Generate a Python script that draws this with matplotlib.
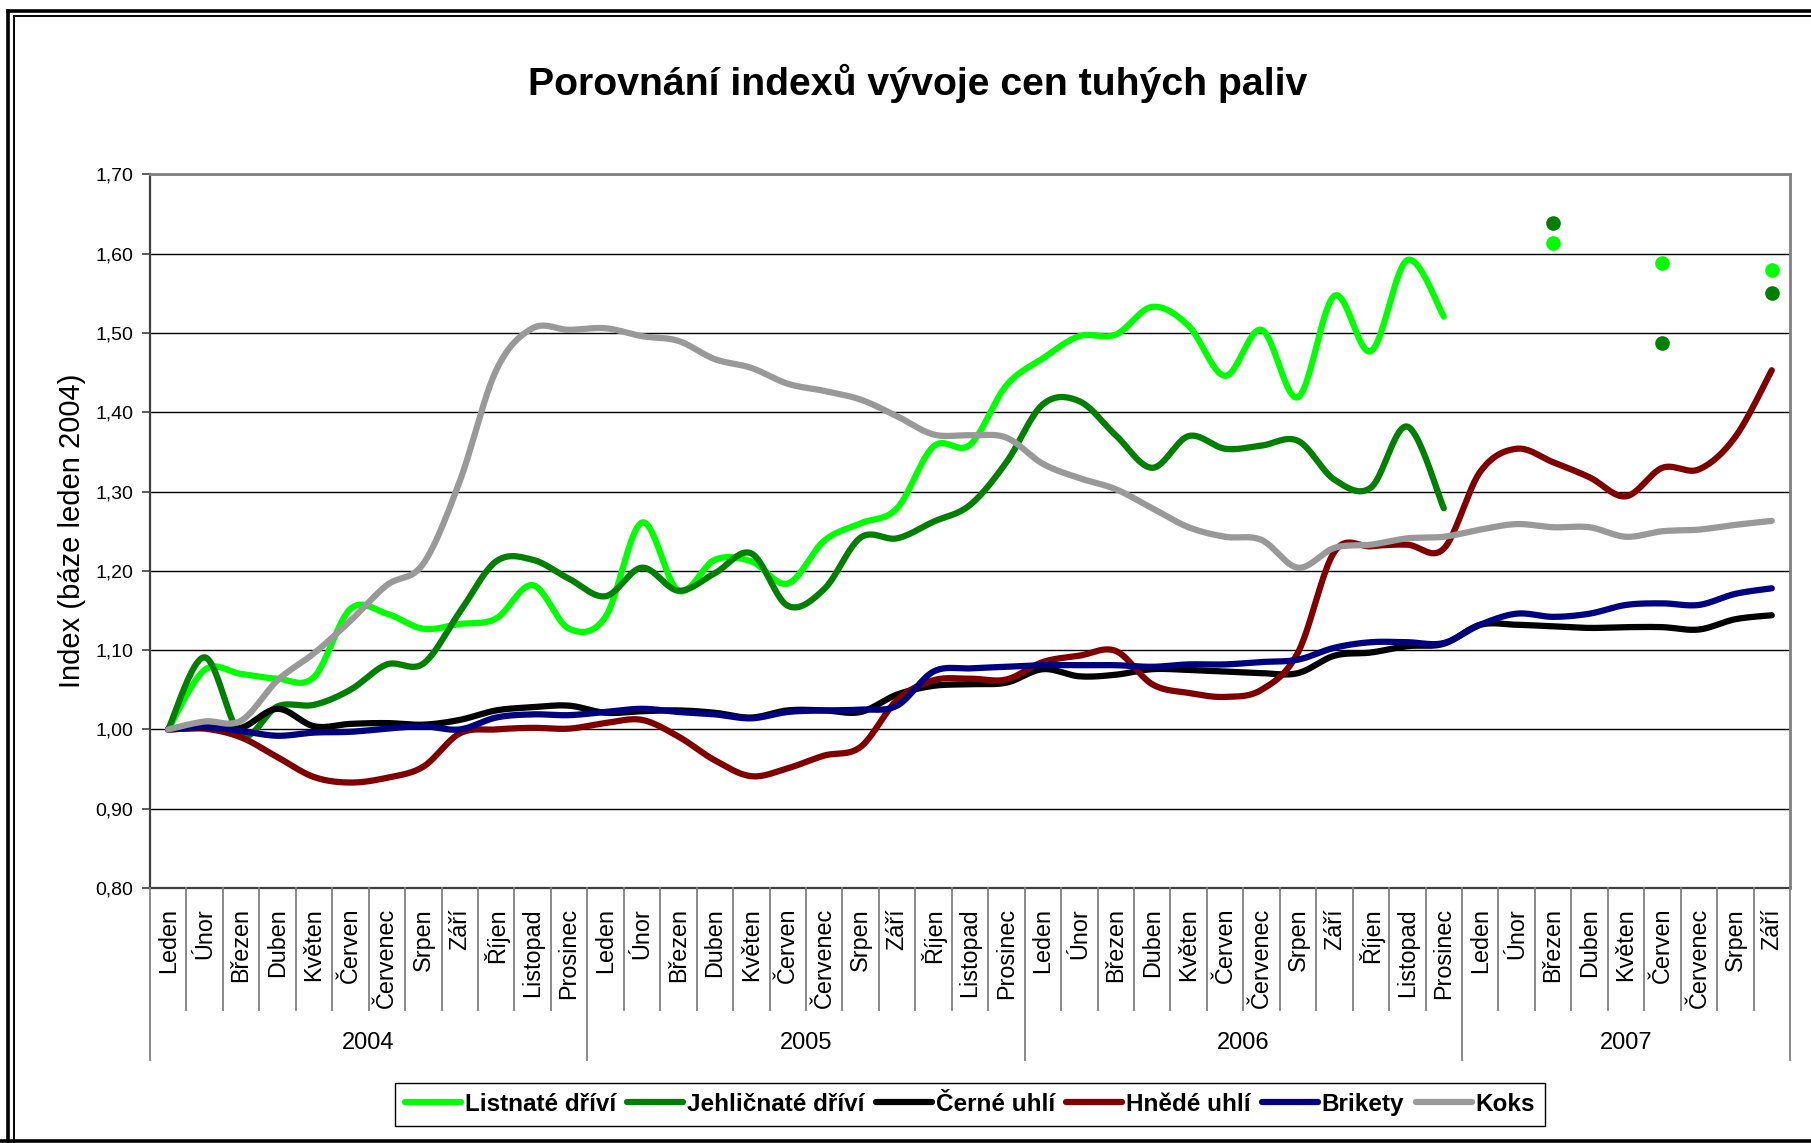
import matplotlib
matplotlib.use("Agg")
import matplotlib.pyplot as plt
import matplotlib.transforms as mtransforms
from matplotlib.lines import Line2D
import numpy as np

plt.rcParams['font.family'] = ['Liberation Sans', 'DejaVu Sans']

# --- data -------------------------------------------------------------
months = ["Leden", "Únor", "Březen", "Duben", "Květen", "Červen",
          "Červenec", "Srpen", "Září", "Říjen", "Listopad", "Prosinec"]
years = ["2004", "2005", "2006", "2007"]
month_labels = months * 3 + months[:9]

listnate = [1.000, 1.075, 1.070, 1.064, 1.066, 1.152, 1.146, 1.127, 1.133, 1.140,
            1.182, 1.127, 1.142, 1.261, 1.175, 1.214, 1.212, 1.184, 1.238, 1.260,
            1.279, 1.357, 1.359, 1.434, 1.468, 1.496, 1.498, 1.533, 1.509, 1.446,
            1.504, 1.419, 1.547, 1.477, 1.592, 1.521,
            None, None, 1.613, None, None, 1.588, None, None, 1.580]
jehlicnate = [1.000, 1.091, 0.993, 1.029, 1.031, 1.050, 1.082, 1.083, 1.148, 1.212,
              1.214, 1.190, 1.168, 1.204, 1.175, 1.197, 1.222, 1.156, 1.177, 1.242,
              1.241, 1.262, 1.283, 1.337, 1.410, 1.414, 1.371, 1.330, 1.370, 1.354,
              1.358, 1.364, 1.315, 1.305, 1.382, 1.279,
              None, None, 1.639, None, None, 1.487, None, None, 1.550]
cerne = [1.000, 1.002, 1.002, 1.026, 1.004, 1.007, 1.008, 1.006, 1.012, 1.024,
         1.028, 1.030, 1.021, 1.023, 1.024, 1.021, 1.015, 1.024, 1.024, 1.022,
         1.044, 1.055, 1.057, 1.059, 1.076, 1.067, 1.069, 1.076, 1.075, 1.073,
         1.071, 1.071, 1.093, 1.097, 1.105, 1.108, 1.132, 1.132, 1.130, 1.128,
         1.129, 1.129, 1.126, 1.139, 1.144]
hnede = [1.000, 1.001, 0.990, 0.965, 0.940, 0.933, 0.939, 0.953, 0.995, 1.000,
         1.002, 1.001, 1.008, 1.012, 0.991, 0.961, 0.941, 0.951, 0.967, 0.978,
         1.037, 1.062, 1.064, 1.063, 1.085, 1.093, 1.099, 1.057, 1.046, 1.041,
         1.050, 1.097, 1.224, 1.231, 1.233, 1.228, 1.325, 1.354, 1.337, 1.318,
         1.294, 1.330, 1.328, 1.369, 1.453]
brikety = [1.000, 1.003, 0.998, 0.992, 0.996, 0.997, 1.001, 1.004, 1.000, 1.015,
           1.019, 1.018, 1.022, 1.026, 1.022, 1.019, 1.014, 1.022, 1.024, 1.025,
           1.030, 1.073, 1.077, 1.079, 1.081, 1.081, 1.081, 1.079, 1.082, 1.082,
           1.085, 1.088, 1.103, 1.110, 1.110, 1.109, 1.132, 1.146, 1.142, 1.146,
           1.157, 1.159, 1.157, 1.171, 1.178]
koks = [1.000, 1.010, 1.011, 1.062, 1.096, 1.137, 1.182, 1.209, 1.313, 1.453,
        1.506, 1.504, 1.506, 1.496, 1.490, 1.467, 1.456, 1.436, 1.427, 1.416,
        1.395, 1.372, 1.371, 1.368, 1.335, 1.317, 1.303, 1.279, 1.255, 1.243,
        1.239, 1.204, 1.229, 1.233, 1.241, 1.243, 1.252, 1.259, 1.255, 1.255,
        1.243, 1.250, 1.252, 1.258, 1.263]

series_names = ["Listnaté dříví", "Jehličnaté dříví", "Černé uhlí",
                "Hnědé uhlí", "Brikety", "Koks"]
series_data = [listnate, jehlicnate, cerne, hnede, brikety, koks]
colors = ["#00FF00", "#008000", "#000000", "#800000", "#000080", "#999999"]


def smooth(xs, ys, n=24):
    # Catmull-Rom curve like Excel's "smoothed line"
    xs = np.asarray(xs, float)
    ys = np.asarray(ys, float)
    px = np.concatenate([[xs[0]], xs, [xs[-1]]])
    py = np.concatenate([[ys[0]], ys, [ys[-1]]])
    outx, outy = [], []
    t = np.linspace(0, 1, n, endpoint=False)
    for i in range(1, len(px) - 2):
        for p, out in ((px, outx), (py, outy)):
            p0, p1, p2, p3 = p[i - 1], p[i], p[i + 1], p[i + 2]
            out.extend(0.5 * (2 * p1 + (-p0 + p2) * t
                              + (2 * p0 - 5 * p1 + 4 * p2 - p3) * t ** 2
                              + (-p0 + 3 * p1 - 3 * p2 + p3) * t ** 3))
    outx.append(xs[-1])
    outy.append(ys[-1])
    return outx, outy


fig = plt.figure(figsize=(18.11, 11.43), dpi=100)
ax = fig.add_axes([0.0828, 0.2231, 0.9056, 0.6243])

handles = []
for name, vals, c in zip(series_names, series_data, colors):
    x = np.arange(len(vals))
    v = np.array([np.nan if a is None else a for a in vals])
    ok = ~np.isnan(v)
    # contiguous run from the start
    run = np.argmin(ok) if not ok.all() else len(v)
    sx, sy = smooth(x[:run], v[:run])
    ax.plot(sx, sy, color=c, lw=4.5, solid_capstyle='round', zorder=3)
    rest = np.where(ok[run:])[0] + run
    if len(rest):
        ax.plot(x[rest], v[rest], 'o', color=c, ms=9.5, zorder=3)
    handles.append(Line2D([], [], color=c, lw=4.5, solid_capstyle='round'))

ax.set_xlim(-0.5, len(month_labels) - 0.5)
ax.set_ylim(0.8, 1.7)
yt = np.arange(0.8, 1.701, 0.1)
ax.set_yticks(yt)
ax.set_yticklabels([f"{v:.2f}".replace('.', ',') for v in yt], fontsize=14)
ax.yaxis.grid(True, color='black', lw=1.0)
ax.set_axisbelow(True)
ax.tick_params(axis='y', length=6, width=1.2, color='#404040', pad=6)
ax.set_xticks([])
for s in ('top', 'right'):
    ax.spines[s].set_color('#808080')
    ax.spines[s].set_linewidth(2)
for s in ('left', 'bottom'):
    ax.spines[s].set_color('#404040')
    ax.spines[s].set_linewidth(1.6)
ax.set_ylabel("Index (báze leden 2004)", fontsize=21, labelpad=7)

# category axis: months and years
tr = mtransforms.blended_transform_factory(ax.transData, fig.transFigure)
for i, lab in enumerate(month_labels):
    ax.text(i, 0.2056, lab, transform=tr, rotation=90, ha='center', va='top',
            fontsize=16.8)
for k in range(len(month_labels) + 1):
    long = k % 12 == 0 or k == len(month_labels)
    y0 = 0.0726 if long else 0.1164
    fig.add_artist(Line2D([k - 0.5, k - 0.5], [0.2231, y0], transform=tr,
                          color='#808080', lw=1.3))
for j, yr in enumerate(years):
    a = j * 12
    b = min(a + 11, len(month_labels) - 1)
    ax.text((a + b) / 2, 0.0875, yr, transform=tr, ha='center', va='center',
            fontsize=17)

fig.text(0.5067, 0.927, "Porovnání indexů vývoje cen tuhých paliv",
         ha='center', va='center', fontsize=28.3, fontweight='bold')

leg = fig.legend(handles, series_names, loc='center', ncol=6,
                 bbox_to_anchor=(0.5356, 0.0337),
                 prop={'weight': 'bold', 'size': 17.5},
                 handlelength=2.3, handletextpad=0.15, columnspacing=0.48,
                 borderpad=0.42, borderaxespad=0, fancybox=False,
                 edgecolor='black', framealpha=1)
leg.get_frame().set_linewidth(1.0)

# double frame around the chart
W, H = 1811, 1143
def fline(xs, ys, lw):
    fig.add_artist(Line2D([x / W for x in xs], [1 - y / H for y in ys],
                          transform=fig.transFigure, color='black', lw=lw))
fline([8, W], [11, 11], 2.6)
fline([8, 8], [11, H], 2.6)
fline([14, W], [16, 16], 1.4)
fline([14, 14], [16, H], 1.4)
fline([0, W], [1141, 1141], 2.6)

fig.savefig("out.png", dpi=100)
